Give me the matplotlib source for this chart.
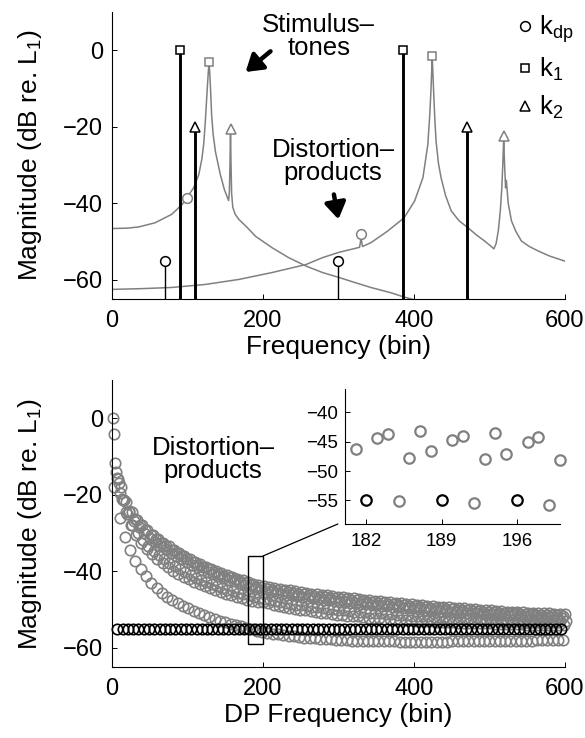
"""
DPOAE figure: line spectrum of the stimulus tones (top) and the
distortion-product levels against DP frequency (bottom, with zoom inset).
"""
import matplotlib
matplotlib.use("Agg")
import matplotlib.pyplot as plt
from matplotlib.lines import Line2D
from matplotlib.patches import Rectangle, ConnectionPatch

plt.rcParams["font.family"] = ["Liberation Sans", "DejaVu Sans"]
plt.rcParams["mathtext.fontset"] = "custom"
plt.rcParams["mathtext.rm"] = "Liberation Sans"
plt.rcParams["mathtext.default"] = "rm"

# ---------------- top panel ----------------
# input tones (black stems)
kdp_bin = [70, 300]
kdp_mag = [-55, -55]
k1_bin = [90, 385]
k1_mag = [0, 0]
k2_bin = [110, 470]
k2_mag = [-20, -20]

# the same tones at the output (grey markers)
kdp_out_bin = [99, 330]
kdp_out_mag = [-38.5, -48.0]
k1_out_bin = [128.5, 424.3]
k1_out_mag = [-3.0, -1.6]
k2_out_bin = [157, 519]
k2_out_mag = [-20.5, -22.5]

# output spectra (grey curves)
spec_a_bin = [0, 20, 35, 57, 79, 93, 99, 108, 115, 119, 121.5, 123.5, 125, 126.5,
              127.5, 128.5, 129.5, 130.5, 132, 134, 137, 143.5, 149, 154.5, 155.5,
              156.3, 157, 157.7, 158.5, 160, 163, 168, 180, 190, 212, 234, 257,
              279, 301, 320, 343, 370, 387, 402]
spec_a_mag = [-46.6, -46.5, -46.2, -45.1, -42.9, -40.3, -38.6, -36.0, -32.5, -28.5,
              -24.5, -19.0, -14.0, -9.0, -6.0, -3.0, -6.0, -10.0, -17.0, -22.0,
              -26.5, -32.5, -36.5, -39.3, -37.0, -30.0, -21.0, -30.0, -37.5, -41.0,
              -42.8, -44.2, -46.5, -48.6, -51.6, -54.2, -56.4, -58.1, -59.4, -60.6,
              -62.0, -63.4, -64.5, -65.3]
spec_b_bin = [0, 40, 79, 124, 168, 212, 257, 279, 301, 320, 328, 329.3, 330, 330.7,
              332, 343, 365, 387, 401, 412, 418.5, 421, 422.5, 423.5, 424.3, 425.2,
              426.4, 428, 429.5, 432.5, 436, 442, 449.5, 460, 471.7, 483, 494, 502,
              506, 509, 512, 514.5, 516.5, 518, 519, 520, 521.5, 522.5, 525, 529.3,
              535, 542.6, 553, 565, 580, 600]
spec_b_mag = [-62.5, -62.3, -62.0, -61.2, -59.9, -58.1, -56.0, -54.2, -52.8, -51.9,
              -51.5, -50.0, -48.2, -50.0, -51.3, -50.3, -47.3, -43.8, -39.4, -33.3,
              -24.6, -17.0, -11.0, -6.0, -1.8, -6.0, -12.0, -19.0, -24.0, -29.5,
              -33.3, -38.0, -42.0, -44.6, -46.4, -48.3, -49.9, -51.2, -51.9, -50.5,
              -47.0, -42.0, -36.0, -29.0, -23.0, -29.0, -36.0, -34.0, -40.0, -44.6,
              -47.3, -49.9, -51.3, -52.5, -53.8, -55.1]

# ---------------- bottom panel ----------------
# one DP level per bin; bins 7n hold the reference level (black),
# the other residues mod 7 form the grey families
DP_STEP = 7
dp_ref_start = 7
dp_ref_mag = [-55.0] * 85

dp_r1_start = 1
dp_r1_mag = [0.0, -16.0, -21.5, -24.5, -26.8, -28.5, -30.0, -31.2, -32.3, -33.3,
             -34.3, -35.2, -36.0, -36.8, -37.6, -38.3, -39.0, -39.6, -40.2, -40.7,
             -41.2, -41.7, -42.2, -42.6, -43.1, -43.5, -44.3, -44.7, -45.0, -45.3,
             -45.5, -45.7, -45.9, -46.1, -46.3, -46.5, -46.7, -46.9, -47.1, -47.2,
             -47.4, -47.6, -47.7, -47.9, -48.0, -48.2, -48.3, -48.5, -48.6, -48.7,
             -48.9, -49.0, -49.1, -49.3, -49.4, -49.5, -49.6, -49.7, -49.8, -50.0,
             -50.1, -50.2, -50.3, -50.4, -50.5, -50.6, -50.7, -50.8, -50.9, -51.0,
             -51.1, -51.1, -51.2, -51.3, -51.4, -51.5, -51.5, -51.6, -51.7, -51.8,
             -51.8, -51.9, -52.0, -52.0, -52.1, -52.1]
dp_r2_start = 2
dp_r2_mag = [-4.0, -17.0, -21.5, -24.2, -26.3, -27.8, -29.2, -30.4, -31.5, -32.5,
             -33.5, -34.4, -35.2, -36.1, -36.9, -37.6, -38.3, -38.9, -39.5, -40.1,
             -40.6, -41.1, -41.6, -42.1, -42.6, -43.0, -43.6, -44.0, -44.2, -44.5,
             -44.8, -45.0, -45.2, -45.4, -45.6, -45.8, -46.0, -46.2, -46.4, -46.6,
             -46.7, -46.9, -47.0, -47.2, -47.3, -47.5, -47.6, -47.8, -47.9, -48.1,
             -48.2, -48.3, -48.5, -48.6, -48.7, -48.9, -49.0, -49.1, -49.2, -49.4,
             -49.5, -49.6, -49.7, -49.8, -49.9, -50.0, -50.1, -50.2, -50.3, -50.4,
             -50.5, -50.6, -50.7, -50.8, -50.9, -50.9, -51.0, -51.1, -51.2, -51.2,
             -51.3, -51.4, -51.4, -51.5, -51.5, -51.6]
dp_r3_start = 3
dp_r3_mag = [-18.0, -26.0, -31.0, -34.5, -37.2, -39.5, -41.3, -43.0, -44.4, -45.6,
             -46.6, -47.5, -48.3, -49.0, -49.7, -50.3, -50.9, -51.5, -52.0, -52.5,
             -52.9, -53.3, -53.7, -54.0, -54.4, -54.7, -55.1, -55.5, -55.8, -56.1,
             -56.3, -56.5, -56.7, -56.9, -57.0, -57.2, -57.3, -57.4, -57.5, -57.6,
             -57.7, -57.8, -57.9, -57.9, -58.0, -58.1, -58.1, -58.2, -58.2, -58.2,
             -58.3, -58.3, -58.3, -58.3, -58.4, -58.4, -58.4, -58.4, -58.4, -58.4,
             -58.4, -58.4, -58.4, -58.4, -58.3, -58.3, -58.3, -58.3, -58.3, -58.3,
             -58.2, -58.2, -58.2, -58.2, -58.2, -58.1, -58.1, -58.1, -58.1, -58.1,
             -58.0, -58.0, -58.0, -58.0, -58.0, -58.0]
dp_r4_start = 4
dp_r4_mag = [-11.7, -19.5, -24.5, -28.0, -30.5, -32.5, -34.2, -35.6, -36.8, -37.9,
             -38.9, -39.8, -40.6, -41.4, -42.1, -42.7, -43.3, -43.9, -44.4, -44.9,
             -45.3, -45.8, -46.2, -46.6, -46.9, -47.4, -47.7, -47.9, -48.1, -48.4,
             -48.7, -49.0, -49.3, -49.6, -49.8, -50.0, -50.2, -50.4, -50.6, -50.8,
             -51.0, -51.1, -51.3, -51.4, -51.6, -51.7, -51.8, -52.0, -52.1, -52.2,
             -52.3, -52.4, -52.5, -52.6, -52.7, -52.7, -52.8, -52.9, -53.0, -53.0,
             -53.1, -53.2, -53.2, -53.3, -53.3, -53.4, -53.4, -53.5, -53.5, -53.6,
             -53.6, -53.6, -53.7, -53.7, -53.7, -53.8, -53.8, -53.8, -53.9, -53.9,
             -53.9, -54.0, -54.0, -54.0, -54.0, -54.1]
dp_r5_start = 5
dp_r5_mag = [-14.0, -18.0, -22.0, -24.5, -26.5, -28.0, -29.3, -30.5, -31.5, -32.5,
             -33.5, -34.4, -35.2, -36.0, -36.8, -37.5, -38.2, -38.8, -39.4, -39.9,
             -40.4, -40.9, -41.4, -41.9, -42.4, -42.8, -43.2, -43.5, -43.8, -44.1,
             -44.4, -44.6, -44.8, -45.0, -45.2, -45.4, -45.6, -45.8, -46.0, -46.2,
             -46.3, -46.5, -46.6, -46.8, -46.9, -47.1, -47.2, -47.4, -47.5, -47.7,
             -47.8, -47.9, -48.1, -48.2, -48.3, -48.5, -48.6, -48.7, -48.8, -49.0,
             -49.1, -49.2, -49.3, -49.4, -49.5, -49.6, -49.7, -49.8, -49.9, -50.0,
             -50.1, -50.2, -50.3, -50.4, -50.5, -50.5, -50.6, -50.7, -50.8, -50.8,
             -50.9, -51.0, -51.0, -51.1, -51.1, -51.2]
dp_r6_start = 6
dp_r6_mag = [-15.5, -21.0, -25.0, -27.8, -30.0, -31.8, -33.3, -34.6, -35.8, -36.8,
             -37.8, -38.7, -39.5, -40.3, -41.0, -41.7, -42.3, -42.9, -43.4, -43.9,
             -44.4, -44.8, -45.2, -45.6, -45.9, -46.3, -46.6, -47.0, -47.3, -47.6,
             -47.8, -48.1, -48.3, -48.5, -48.7, -48.9, -49.1, -49.3, -49.4, -49.6,
             -49.8, -49.9, -50.1, -50.2, -50.3, -50.5, -50.6, -50.7, -50.8, -50.9,
             -51.0, -51.1, -51.2, -51.3, -51.4, -51.5, -51.6, -51.6, -51.7, -51.8,
             -51.9, -51.9, -52.0, -52.1, -52.1, -52.2, -52.2, -52.3, -52.3, -52.4,
             -52.4, -52.5, -52.5, -52.6, -52.6, -52.7, -52.7, -52.7, -52.8, -52.8,
             -52.8, -52.9, -52.9, -52.9, -53.0, -53.0]

# zoom window shown in the inset
zoom_xlim = (180, 200)
zoom_ylim = (-59, -36)

GREY = "#808080"
FS_TICK = 17
FS_LABEL = 19
FS_NOTE = 18.5
YLABEL = r"Magnitude (dB re. L$_1$)"


def _bins(start, values):
    return list(range(start, start + DP_STEP * len(values), DP_STEP))


def _in_window(start, values):
    """Points whose centre lies inside the zoom window (markers drawn whole)."""
    pts = [(b, v) for b, v in zip(_bins(start, values), values)
           if zoom_xlim[0] < b <= zoom_xlim[1]]
    return [p[0] for p in pts], [p[1] for p in pts]


def _style(ax, fs=FS_TICK, pad=6.5):
    ax.spines["top"].set_visible(False)
    ax.spines["right"].set_visible(False)
    for s in ("left", "bottom"):
        ax.spines[s].set_linewidth(0.8)
    ax.tick_params(direction="in", length=3.6, width=0.7, labelsize=fs, pad=pad)
    ax.tick_params(axis="x", pad=pad + 1.5)


fig = plt.figure(figsize=(5.85, 7.38), dpi=100)

# ---- top: spectra ----
ax1 = fig.add_axes([0.1915, 0.5949, 0.774, 0.389])
ax1.plot(spec_a_bin, spec_a_mag, color=GREY, lw=1.1, zorder=1)
ax1.plot(spec_b_bin, spec_b_mag, color=GREY, lw=1.1, zorder=1)

mk = dict(ls="none", mfc="white", mew=1.1, zorder=4)
ax1.plot(kdp_out_bin, kdp_out_mag, marker="o", ms=7, mec=GREY, **mk)
ax1.plot(k1_out_bin, k1_out_mag, marker="s", ms=6, mec=GREY, **mk)
ax1.plot(k2_out_bin, k2_out_mag, marker="^", ms=7.5, mec=GREY, **mk)

ax1.vlines(kdp_bin, -65, kdp_mag, color="k", lw=1.0, zorder=2)
ax1.vlines(k1_bin, -65, k1_mag, color="k", lw=2.1, zorder=2)
ax1.vlines(k2_bin, -65, k2_mag, color="k", lw=2.1, zorder=2)
ax1.plot(kdp_bin, kdp_mag, marker="o", ms=7, mec="k", **mk)
ax1.plot(k1_bin, k1_mag, marker="s", ms=6, mec="k", **mk)
ax1.plot(k2_bin, k2_mag, marker="^", ms=7.5, mec="k", **mk)

ax1.set_xlim(0, 600)
ax1.set_ylim(-65, 10)
ax1.set_xticks([0, 200, 400, 600])
ax1.set_yticks([0, -20, -40, -60])
_style(ax1)
ax1.set_xlabel("Frequency (bin)", fontsize=FS_LABEL, labelpad=2)
ax1.set_ylabel(YLABEL, fontsize=FS_LABEL)
ax1.yaxis.set_label_coords(-0.15, 0.5)

arrow = dict(arrowstyle="-|>,head_length=0.7,head_width=0.45", lw=3.2, color="k",
             mutation_scale=14, shrinkA=0, shrinkB=0)
ax1.text(274, 3.6, "Stimulus\u2013\ntones", fontsize=FS_NOTE, ha="center",
         va="center", linespacing=0.95)
ax1.annotate("", xy=(177, -5.7), xytext=(210, -0.3), arrowprops=arrow)
ax1.text(293, -29, "Distortion\u2013\nproducts", fontsize=FS_NOTE, ha="center",
         va="center", linespacing=0.95)
ax1.annotate("", xy=(300, -44.2), xytext=(294, -37.7), arrowprops=arrow)

handles = [Line2D([], [], ls="none", marker=m, ms=s, mfc="white", mec="k", mew=1.1)
           for m, s in (("o", 7), ("s", 6), ("^", 7.5))]
ax1.legend(handles, [r"k$_{dp}$", r"k$_1$", r"k$_2$"], loc="upper right",
           bbox_to_anchor=(1.02, 0.995), frameon=False, fontsize=FS_NOTE,
           handlelength=0.5, handletextpad=0.32, labelspacing=0.42,
           borderaxespad=0, borderpad=0)

# ---- bottom: DP levels ----
ax2 = fig.add_axes([0.1915, 0.0962, 0.774, 0.389])
grey_sets = [(dp_r1_start, dp_r1_mag), (dp_r2_start, dp_r2_mag),
             (dp_r3_start, dp_r3_mag), (dp_r4_start, dp_r4_mag),
             (dp_r5_start, dp_r5_mag), (dp_r6_start, dp_r6_mag)]
circ = dict(ls="none", marker="o", mfc="none", ms=7.5, mew=1.2)
for start, vals in grey_sets:
    ax2.plot(_bins(start, vals), vals, mec=GREY, clip_on=False, **circ)
ax2.plot(_bins(dp_ref_start, dp_ref_mag), dp_ref_mag, mec="k", clip_on=False, **circ)

ax2.set_xlim(0, 600)
ax2.set_ylim(-65, 10)
ax2.set_xticks([0, 200, 400, 600])
ax2.set_yticks([0, -20, -40, -60])
_style(ax2)
ax2.set_xlabel("DP Frequency (bin)", fontsize=FS_LABEL, labelpad=2)
ax2.set_ylabel(YLABEL, fontsize=FS_LABEL)
ax2.yaxis.set_label_coords(-0.15, 0.5)
ax2.text(134, -10.8, "Distortion\u2013\nproducts", fontsize=FS_NOTE, ha="center",
         va="center", linespacing=0.95)

box = Rectangle((zoom_xlim[0], zoom_ylim[0]), zoom_xlim[1] - zoom_xlim[0],
                zoom_ylim[1] - zoom_ylim[0], fill=False, ec="k", lw=1.0, zorder=5)
ax2.add_patch(box)

# ---- inset ----
ax3 = fig.add_axes([0.5897, 0.29, 0.3675, 0.183])
ax3.set_facecolor("white")
circ_in = dict(ls="none", marker="o", mfc="none", ms=7.5, mew=1.6, clip_on=False)
for start, vals in grey_sets:
    ax3.plot(*_in_window(start, vals), mec=GREY, **circ_in)
ax3.plot(*_in_window(dp_ref_start, dp_ref_mag), mec="k", **circ_in)
ax3.set_xlim(*zoom_xlim)
ax3.set_ylim(*zoom_ylim)
ax3.set_xticks([182, 189, 196])
ax3.set_yticks([-40, -45, -50, -55])
_style(ax3, fs=13.5, pad=5)

con = ConnectionPatch(xyA=(zoom_xlim[1], zoom_ylim[1]), coordsA=ax2.transData,
                      xyB=(-0.033, 0.0), coordsB=ax3.transAxes, color="k", lw=0.9)
fig.add_artist(con)

fig.savefig("out.png", dpi=100)
